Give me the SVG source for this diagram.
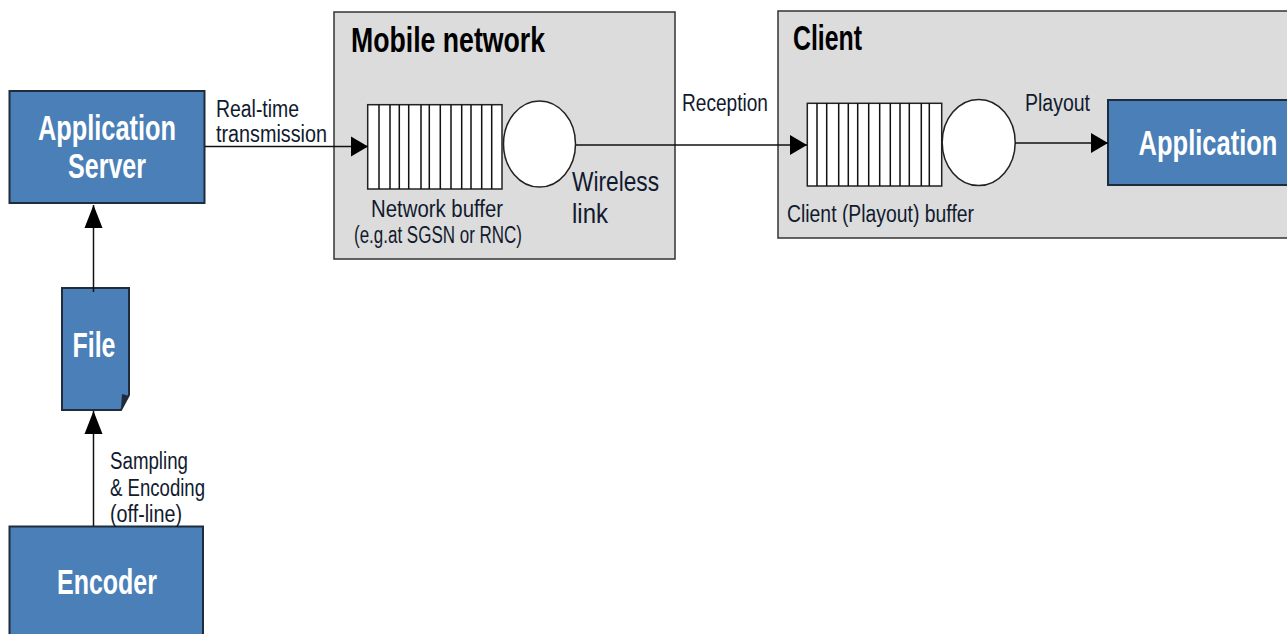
<svg xmlns="http://www.w3.org/2000/svg" width="1287" height="634" viewBox="0 0 1287 634">
<style>
text{font-family:"Liberation Sans",Arial,sans-serif;fill:#111a2e}
.n{fill:#4a7fb8;stroke:#1e2c3c;stroke-width:2}
.g{fill:#dcdcdc;stroke:#333;stroke-width:1.500}
.b{fill:#fff;stroke:#222;stroke-width:1.500}
.w{fill:#fff;font-weight:bold;font-size:35px;text-anchor:middle}
.h{font-weight:bold;font-size:35px;fill:#000}
.s{font-size:23px}
.m{font-size:28px}
.c{fill:none;stroke:#111;stroke-width:1.500}
</style>
<defs>
<marker id="a" markerUnits="userSpaceOnUse" markerWidth="18" markerHeight="22" refX="17" refY="11" orient="auto"><path d="M0 1L17 11L0 21Z" fill="#000"/></marker>
<marker id="u" markerUnits="userSpaceOnUse" markerWidth="24" markerHeight="20" refX="23" refY="10" orient="auto"><path d="M0 1L23 10L0 19Z" fill="#000"/></marker>
</defs>
<rect width="1287" height="634" fill="#fff"/>
<g id="mobile-network"><rect class="g" x="334" y="12" width="341" height="247"/><text class="h" x="351" y="52" textLength="194" lengthAdjust="spacingAndGlyphs">Mobile network</text></g>
<g id="client"><path class="g" d="M1287 11H778V238H1287"/><text class="h" x="793" y="50" textLength="69" lengthAdjust="spacingAndGlyphs">Client</text></g>
<g id="app-server"><rect class="n" x="9.500" y="91" width="195" height="112"/><text class="w" x="107" y="140" textLength="138" lengthAdjust="spacingAndGlyphs">Application</text><text class="w" x="107" y="178" textLength="78" lengthAdjust="spacingAndGlyphs">Server</text></g>
<g id="file"><path class="n" d="M62 288H129V395L121 410H62Z"/><path d="M121 410L122 394L129 396Z" fill="#1e2c3c"/><text class="w" x="94" y="357" textLength="43" lengthAdjust="spacingAndGlyphs">File</text></g>
<g id="encoder"><path class="n" d="M9.500 634V526.500H203V634"/><text class="w" x="107" y="594" textLength="100" lengthAdjust="spacingAndGlyphs">Encoder</text></g>
<g id="application"><path class="n" d="M1287 100H1108V185H1287"/><text class="w" transform="translate(1208 155) scale(.729 1)">Application</text></g>
<g id="network-buffer"><rect class="b" x="367.700" y="104.700" width="134.300" height="84.300"/><path class="c" d="M379 105V189M390 105V189M399.300 105V189M408.700 105V189M421 105V189M429.300 105V189M440.300 105V189M451 105V189M461.700 105V189M471 105V189M481.700 105V189M491.700 105V189"/><text class="s" x="371" y="217" textLength="132" lengthAdjust="spacingAndGlyphs">Network buffer</text><text class="s" x="354" y="243" textLength="168" lengthAdjust="spacingAndGlyphs">(e.g.at SGSN or RNC)</text></g>
<g id="network-server"><ellipse class="b" cx="539.500" cy="144" rx="36" ry="43"/><text class="m" x="572" y="191" textLength="87" lengthAdjust="spacingAndGlyphs">Wireless</text><text class="m" x="572" y="223" textLength="36" lengthAdjust="spacingAndGlyphs">link</text></g>
<g id="client-buffer"><rect class="b" x="807.300" y="103.300" width="134.400" height="82.700"/><path class="c" d="M817 103V186M826.700 103V186M838.700 103V186M848.300 103V186M857.700 103V186M868.700 103V186M879.700 103V186M890.300 103V186M900 103V186M909.300 103V186M921.300 103V186M929.300 103V186"/><text class="s" x="787" y="222" textLength="187" lengthAdjust="spacingAndGlyphs">Client (Playout) buffer</text></g>
<g id="client-server"><ellipse class="b" cx="978.700" cy="142.500" rx="36.500" ry="43"/></g>
<g id="connectors">
<path class="c" marker-end="url(#a)" d="M205 146.500H368"/>
<path class="c" marker-end="url(#a)" d="M576 145H807"/>
<path class="c" marker-end="url(#a)" d="M1015 143H1108"/>
<path class="c" marker-end="url(#u)" d="M93.500 292V205"/>
<path class="c" marker-end="url(#u)" d="M93.500 526V411"/>
</g>
<g id="labels">
<text class="s" x="216" y="117" textLength="83" lengthAdjust="spacingAndGlyphs">Real-time</text>
<text class="s" x="216" y="142" textLength="111" lengthAdjust="spacingAndGlyphs">transmission</text>
<text class="s" x="682" y="111" textLength="86" lengthAdjust="spacingAndGlyphs">Reception</text>
<text class="s" x="1025" y="111" textLength="65" lengthAdjust="spacingAndGlyphs">Playout</text>
<text class="s" x="110" y="469" textLength="78" lengthAdjust="spacingAndGlyphs">Sampling</text>
<text class="s" x="110" y="496" textLength="95" lengthAdjust="spacingAndGlyphs">&amp; Encoding</text>
<text class="s" x="110" y="522" textLength="72" lengthAdjust="spacingAndGlyphs">(off-line)</text>
</g>
</svg>
